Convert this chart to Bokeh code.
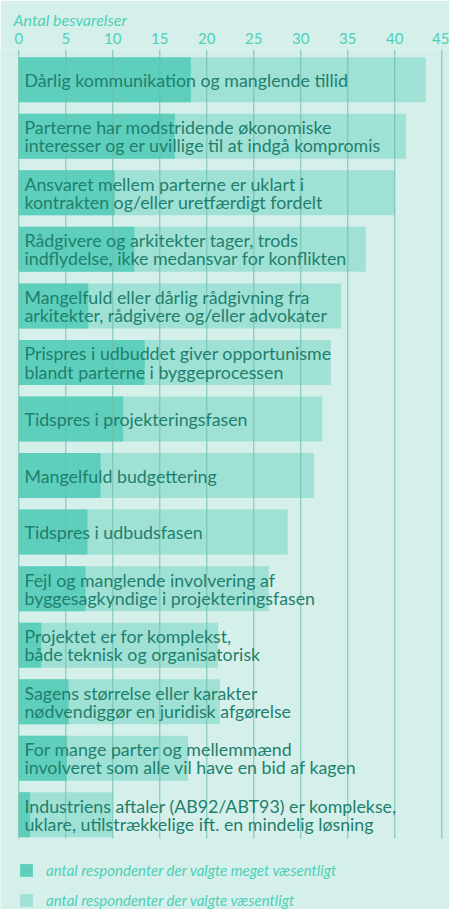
from bokeh.plotting import figure
from bokeh.models import Range1d, Legend, LegendItem, ColumnDataSource, FixedTicker
from bokeh.core.properties import value
from bokeh.embed import file_html
from bokeh.resources import INLINE

categories = [
    "Dårlig kommunikation og manglende tillid",
    "Parterne har modstridende økonomiske\ninteresser og er uvillige til at indgå kompromis",
    "Ansvaret mellem parterne er uklart i\nkontrakten og/eller uretfærdigt fordelt",
    "Rådgivere og arkitekter tager, trods\nindflydelse, ikke medansvar for konflikten",
    "Mangelfuld eller dårlig rådgivning fra\narkitekter, rådgivere og/eller advokater",
    "Prispres i udbuddet giver opportunisme\nblandt parterne i byggeprocessen",
    "Tidspres i projekteringsfasen",
    "Mangelfuld budgettering",
    "Tidspres i udbudsfasen",
    "Fejl og manglende involvering af\nbyggesagkyndige i projekteringsfasen",
    "Projektet er for komplekst,\nbåde teknisk og organisatorisk",
    "Sagens størrelse eller karakter\nnødvendiggør en juridisk afgørelse",
    "For mange parter og mellemmænd\ninvolveret som alle vil have en bid af kagen",
    "Industriens aftaler (AB92/ABT93) er komplekse,\nuklare, utilstrækkelige ift. en mindelig løsning",
]
meget_vaesentligt = [18.3, 16.6, 10.2, 12.3, 7.4, 13.4, 11.1, 8.7, 7.3, 7.1, 2.4, 5.3, 5.1, 1.2]
vaesentligt = [43.3, 41.2, 40.0, 36.9, 34.3, 33.2, 32.3, 31.4, 28.6, 26.6, 21.2, 21.4, 18.0, 10.0]
ticks = [0, 5, 10, 15, 20, 25, 30, 35, 40, 45]
axis_title = "Antal besvarelser"
legend_labels = ["antal respondenter der valgte meget væsentligt",
                 "antal respondenter der valgte væsentligt"]

BG = "#d5f0eb"
LIGHT = "#a0e1d6"
DARK = "#5ecfbc"
DARK_LEG = "#48c8b0"
TEXT = "#1e7f6c"
TICKC = "#4fcfb5"
GRID = "#6dbcaa"

rows = list(range(len(categories)))
src = ColumnDataSource(dict(y=rows, cat=categories, m=meget_vaesentligt, v=vaesentligt,
                            tx=[0.6] * len(rows)))

p = figure(width=449, height=909, output_backend="svg", toolbar_location=None,
           x_range=Range1d(-1.947, 45.82), y_range=Range1d(14.674, -0.534),
           x_axis_location="above", min_border_left=0, min_border_right=0,
           min_border_bottom=0, min_border_top=49,
           background_fill_color=BG, border_fill_color=BG, outline_line_color=None)

p.title.text = axis_title
p.title.text_font = "Lato"
p.title.text_font_style = "italic"
p.title.text_font_size = "16px"
p.title.text_color = TICKC
p.title.align = "left"
p.title.offset = 13
p.title.standoff = 2

p.yaxis.visible = False
p.xaxis.ticker = FixedTicker(ticks=ticks)
p.xaxis.axis_line_color = None
p.xaxis.major_tick_line_color = None
p.xaxis.minor_tick_line_color = None
p.xaxis.major_label_text_font = "Lato"
p.xaxis.major_label_text_font_size = "15px"
p.xaxis.major_label_text_color = TICKC
p.xaxis.major_label_standoff = 0
p.grid.visible = False

r_light = p.hbar(y="y", left=0, right="v", height=0.796, source=src, fill_color=LIGHT, line_color=None)
r_dark = p.hbar(y="y", left=0, right="m", height=0.796, source=src, fill_color=DARK, line_color=None)

# vertical gridlines over the bars
y_top = -0.534
y_bot = len(rows) - 1 + 0.42
p.segment(x0=ticks, x1=ticks, y0=[y_top] * len(ticks), y1=[y_bot] * len(ticks),
          line_color=GRID, line_width=1, line_alpha=0.9)

p.text(x="tx", y="y", text="cat", source=src, text_font=value("Lato"),
       text_font_size="17.8px", text_color=TEXT, text_baseline="middle",
       text_align="left", text_line_height=0.83)

legend = Legend(items=[LegendItem(label=legend_labels[0], renderers=[r_dark]),
                       LegendItem(label=legend_labels[1], renderers=[r_light])],
                location=(18, 0), orientation="vertical",
                background_fill_alpha=0, border_line_color=None,
                glyph_width=16, glyph_height=16, label_height=16,
                spacing=12, padding=0, margin=0, label_standoff=12,
                label_text_font="Lato", label_text_font_style="italic",
                label_text_font_size="15px", label_text_color=TICKC)
p.add_layout(legend)

open("out.html", "w").write(file_html(p, INLINE))
